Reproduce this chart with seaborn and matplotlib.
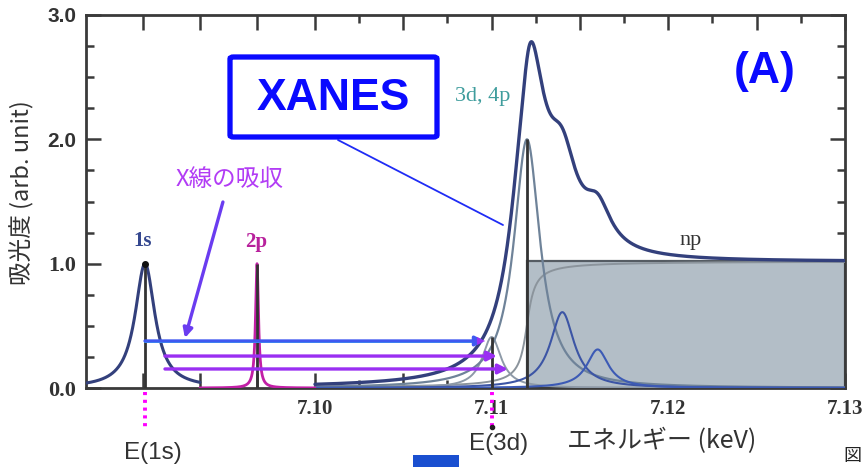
import numpy as np
import pandas as pd
import matplotlib
matplotlib.use("Agg")
import matplotlib.pyplot as plt
import seaborn as sns
from matplotlib.patches import FancyBboxPatch, Rectangle
from matplotlib.lines import Line2D

# ---------------- data (energy in keV, absorbance in arb. unit) ----------------
core_labels = ["1s", "2p"]
core_centers = [7.09038, 7.09672]
core_heights = [1.0, 1.0]
core_widths = [0.00068, 0.00010]          # Lorentzian half widths
core_ranges = [(7.08704, 7.09349), (7.09349, 7.10000)]

xanes_labels = ["3d", "4p", "5p", "6p"]
xanes_centers = [7.1100, 7.1120, 7.1140, 7.1160]
xanes_heights = [0.41, 2.00, 0.61, 0.31]
xanes_widths = [0.00065, 0.00090, 0.00082, 0.00075]

edge_center = 7.1120
edge_height = 1.02
edge_width = 0.00034

# measured envelope: dipole-allowed np terms plus the edge, with extra broadening
envelope_terms = ["4p", "5p", "6p"]
envelope_broadening = 1.22

transition_levels = [0.378, 0.257, 0.153]
transition_starts = [7.09038, 7.09151, 7.09151]
transition_ends = [7.10962, 7.11030, 7.11092]

xtick_values = [7.09026, 7.09349, 7.09672, 7.100, 7.105, 7.110, 7.115, 7.120, 7.125, 7.130]
xtick_labels = ["", "", "", "7.10", "", "7.11", "", "7.12", "", "7.13"]
xminor_values = [7.1025, 7.1075, 7.1125, 7.1175, 7.1225, 7.1275]
ytick_values = [0.0, 1.0, 2.0, 3.0]
ytick_labels = ["0.0", "1.0", "2.0", "3.0"]
yminor_values = [0.25, 0.5, 0.75, 1.25, 1.5, 1.75, 2.25, 2.5, 2.75]

X_MIN, X_MAX = 7.08704, 7.13
Y_MIN, Y_MAX = 0.0, 3.0


def lorentz(e, c, h, w):
    return h / (1.0 + ((e - c) / w) ** 2)


def step(e, c, h, w):
    return h * (0.5 + np.arctan((e - c) / w) / np.pi)


# ---------------- curves ----------------
e_xanes = np.linspace(7.100, 7.130, 3001)
params = dict(zip(xanes_labels, zip(xanes_centers, xanes_heights, xanes_widths)))
components = {lab: lorentz(e_xanes, c, h, w) for lab, (c, h, w) in params.items()}
edge_curve = step(e_xanes, edge_center, edge_height, edge_width)
total = edge_curve.copy()
for lab in envelope_terms:
    c, h, w = params[lab]
    total = total + lorentz(e_xanes, c, h, w * envelope_broadening)

frames = []
for lab, y in components.items():
    frames.append(pd.DataFrame({"energy": e_xanes, "absorbance": y, "curve": lab}))
frames.append(pd.DataFrame({"energy": e_xanes, "absorbance": edge_curve, "curve": "edge"}))
frames.append(pd.DataFrame({"energy": e_xanes, "absorbance": total, "curve": "total"}))
for lab, c, h, w, (lo, hi) in zip(core_labels, core_centers, core_heights, core_widths, core_ranges):
    e = np.linspace(lo, hi, 2001)
    frames.append(pd.DataFrame({"energy": e, "absorbance": lorentz(e, c, h, w), "curve": lab}))
spectra = pd.concat(frames, ignore_index=True)

# ---------------- styling ----------------
sns.set_theme(style="ticks")
plt.rcParams["font.family"] = ["DejaVu Sans", "Noto Sans CJK JP"]

W, H = 863, 467
fig = plt.figure(figsize=(W / 100, H / 100), dpi=100)
fig.patch.set_facecolor("white")
ax = fig.add_axes([86 / W, 1 - 388 / H, (845 - 86) / W, (388 - 15) / H])
ax.set_facecolor("white")


def fpx(x, y):
    """pixel position (from top-left) -> figure fraction"""
    return x / W, 1 - y / H


axis_col = "#3a3a3a"
total_col = "#33407c"
style = {
    "3d": dict(color="#8e9aa8", lw=1.4),
    "4p": dict(color="#6f8399", lw=1.6),
    "5p": dict(color="#3c55a5", lw=1.5),
    "6p": dict(color="#3c5ab5", lw=1.5),
    "edge": dict(color="#8b949c", lw=1.4),
    "total": dict(color=total_col, lw=2.4),
    "1s": dict(color=total_col, lw=2.2),
    "2p": dict(color="#c21fa6", lw=2.0),
}

# shaded continuum region
ax.add_patch(Rectangle((edge_center, 0), X_MAX - edge_center, edge_height,
                       facecolor="#b3bec7", edgecolor="#555c63", lw=1.6, zorder=1))

for lab in ["edge", "3d", "4p", "5p", "6p", "1s", "2p", "total"]:
    sub = spectra[spectra["curve"] == lab]
    sns.lineplot(data=sub, x="energy", y="absorbance", ax=ax, sort=False,
                 estimator=None, zorder=4 if lab == "total" else 3, **style[lab])

# vertical marker lines at the level positions
ax.vlines(core_centers, 0, core_heights, colors="#333333", lw=2.0, zorder=3.5)
ax.vlines(xanes_centers[:2], 0, xanes_heights[:2], colors="#333333", lw=2.0, zorder=3.5)
ax.plot([core_centers[0]], [core_heights[0]], "o", color="#111111", ms=4, zorder=5)

# transitions 1s -> 3d/4p
for i, (lvl, x0, x1) in enumerate(zip(transition_levels, transition_starts, transition_ends)):
    line_col = "#3f58f0" if i == 0 else "#9a2ff2"
    if i == 0:
        ax.plot([x0, x1 - 0.0004], [lvl - 0.012, lvl - 0.012], color="#3ad0f0", lw=1.4, zorder=5)
    ax.annotate("", xy=(x1, lvl), xytext=(x0, lvl),
                arrowprops=dict(arrowstyle="-|>", color=line_col, lw=2.4,
                                mutation_scale=14, shrinkA=0, shrinkB=0),
                zorder=6)
    if i == 0:
        ax.annotate("", xy=(x1, lvl), xytext=(x1 - 0.0006, lvl),
                    arrowprops=dict(arrowstyle="-|>", color="#9a2ff2", lw=0.1,
                                    mutation_scale=14, shrinkA=0, shrinkB=0),
                    zorder=7)

# absorption arrow
ax.annotate("", xy=(7.09264, 0.402), xytext=(7.09479, 1.496),
            arrowprops=dict(arrowstyle="-|>", color="#6a3cf0", lw=2.4,
                            mutation_scale=14, shrinkA=0, shrinkB=0), zorder=6)

# axes limits, spines, ticks
ax.set_xlim(X_MIN, X_MAX)
ax.set_ylim(Y_MIN, Y_MAX)
for sp in ax.spines.values():
    sp.set_visible(True)
    sp.set_color(axis_col)
    sp.set_linewidth(2.0)
ax.set_xticks(xtick_values)
ax.set_xticklabels(xtick_labels)
ax.set_xticks(xminor_values, minor=True)
ax.set_yticks(ytick_values)
ax.set_yticklabels(ytick_labels)
ax.set_yticks(yminor_values, minor=True)
ax.tick_params(which="both", direction="in", top=True, right=True, color=axis_col, width=1.8)
ax.tick_params(which="major", length=11)
ax.tick_params(which="minor", length=6)
ax.tick_params(axis="x", which="major", pad=8)
ax.tick_params(axis="y", which="major", pad=7)
for t in ax.get_xticklabels():
    t.set_fontfamily("Liberation Serif")
    t.set_fontweight("bold")
    t.set_fontsize(15)
    t.set_color("#333333")
for t, v in zip(ax.get_yticklabels(), ytick_values):
    sans = v >= 2
    t.set_fontfamily("Liberation Sans" if sans else "Liberation Serif")
    t.set_fontweight("bold")
    t.set_fontsize(15 if sans else 16)
    t.set_color("#333333")
ax.set_xlabel("")
ax.set_ylabel("吸光度 (arb. unit)", fontsize=17, color="#333333",
              family=["Noto Sans CJK JP", "DejaVu Sans"])
ax.yaxis.set_label_coords(-(86 - 34) / (845 - 86), (388 - 193) / (388 - 15))

# dotted guides from the level positions down to the energy labels
for x, y1 in [(core_centers[0], -0.34), (xanes_centers[0], -0.31)]:
    ax.plot([x, x], [-0.03, y1], color="#ff00ff", lw=2.8, ls=(0, (0.8, 1.2)),
            clip_on=False, zorder=6)
ax.plot([xanes_centers[0]], [-0.31], "o", color="#222222", ms=3, clip_on=False, zorder=7)

# level labels
serif = "Liberation Serif"
fig.text(*fpx(143, 241), "1s", ha="center", va="center", fontsize=15,
         family=serif, fontweight="bold", color="#34478f")
fig.text(*fpx(256, 242), "2p", ha="center", va="center", fontsize=15,
         family=serif, fontweight="bold", color="#b8219c")
fig.text(*fpx(691, 241), "np", ha="center", va="center", fontsize=16,
         family=serif, color="#333333")
fig.text(*fpx(483, 97), "3d, 4p", ha="center", va="center", fontsize=16,
         family=serif, color="#3f9d9d")
fig.text(*fpx(230, 179), "X線の吸収", ha="center", va="center", fontsize=17,
         family=["Noto Sans CJK JP", "DejaVu Sans"], color="#b23cf5")

fig.text(*fpx(153, 453), "E(1s)", ha="center", va="center", fontsize=17.5,
         family="Liberation Sans", color="#333333")
fig.text(*fpx(499, 444), "E(3d)", ha="center", va="center", fontsize=17.5,
         family="Liberation Sans", color="#333333")
fig.text(*fpx(662, 441), "エネルギー (keV)", ha="center", va="center", fontsize=18,
         family=["Noto Sans CJK JP", "DejaVu Sans"], color="#333333")

# XANES call-out box
bx0, by0 = fpx(230, 137)
bx1, by1 = fpx(437, 57)
fig.add_artist(FancyBboxPatch((bx0, by0), bx1 - bx0, by1 - by0,
                              boxstyle="round,pad=0,rounding_size=0.004",
                              transform=fig.transFigure, facecolor="white",
                              edgecolor="#0a0aff", lw=3.8, zorder=10))
fig.text(*fpx(333, 99), "XANES", ha="center", va="center", fontsize=32,
         family="Liberation Sans", fontweight="bold", color="#0a0aff", zorder=11)
fig.add_artist(Line2D([338 / W, 503 / W], [1 - 140 / H, 1 - 225 / H],
                      transform=fig.transFigure, color="#1f2cf5", lw=1.3, zorder=9))
fig.text(*fpx(765, 71), "(A)", ha="center", va="center", fontsize=32,
         family="Liberation Sans", fontweight="bold", color="#0a0aff")

# bits along the lower edge
fig.add_artist(Rectangle((413 / W, 0), 46 / W, 12 / H, transform=fig.transFigure,
                         facecolor="#1a4fd0", edgecolor="none"))
fig.text(*fpx(861, 456), "図", ha="right", va="center", fontsize=13,
         family=["Noto Sans CJK JP"], color="#222222")

fig.savefig("out.png", dpi=100)
